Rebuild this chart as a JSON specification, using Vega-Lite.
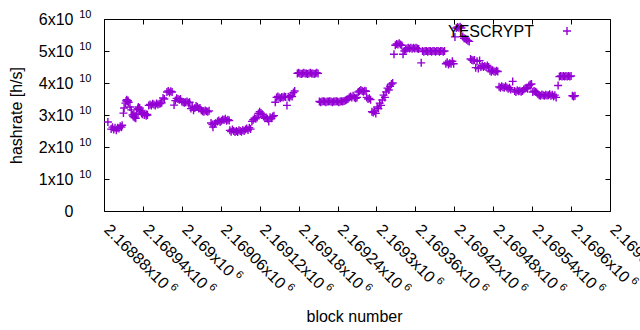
{
"$schema": "https://vega.github.io/schema/vega-lite/v6.json",
"autosize": {"type": "none"},
"width": 506, "height": 192,
"padding": {"left": 104, "top": 19, "right": 30, "bottom": 119},
"background": "white",
"config": {"view": {"stroke": "black", "strokeWidth": 1}, "font": "Liberation Sans",
 "axis": {"domain": false, "grid": false, "tickColor": "black", "tickSize": -5, "labelColor": "black", "labelFontSize": 16, "titleFontSize": 16, "titleFontWeight": "normal", "titleColor": "black", "labelFont": "Liberation Sans", "titleFont": "Liberation Sans"}},
"datasets": {"d": [
{"b":2168886,"h":2.78e10},{"b":2168891,"h":2.56e10},{"b":2168893,"h":2.62e10},{"b":2168895,"h":2.55e10},{"b":2168897,"h":2.6e10},{"b":2168899,"h":2.52e10},{"b":2168901,"h":2.6e10},{"b":2168903,"h":2.58e10},{"b":2168905,"h":2.65e10},{"b":2168907,"h":2.62e10},{"b":2168908,"h":2.68e10},
{"b":2168910,"h":3.06e10},{"b":2168911,"h":3.22e10},{"b":2168913,"h":3.37e10},{"b":2168914,"h":3.44e10},{"b":2168915,"h":3.48e10},{"b":2168916,"h":3.42e10},{"b":2168917,"h":3.45e10},{"b":2168918,"h":3.4e10},{"b":2168920,"h":3.25e10},{"b":2168922,"h":3.16e10},{"b":2168924,"h":3.0e10},{"b":2168925,"h":2.95e10},{"b":2168926,"h":3.02e10},{"b":2168927,"h":2.92e10},{"b":2168928,"h":2.97e10},{"b":2168929,"h":2.9e10},{"b":2168930,"h":3.03e10},{"b":2168932,"h":3.2e10},{"b":2168933,"h":3.25e10},{"b":2168934,"h":3.17e10},{"b":2168935,"h":3.22e10},{"b":2168936,"h":3.13e10},{"b":2168938,"h":3.06e10},{"b":2168939,"h":3.02e10},{"b":2168940,"h":3.08e10},{"b":2168942,"h":3.0e10},{"b":2168943,"h":3.04e10},{"b":2168945,"h":2.98e10},{"b":2168946,"h":3.02e10},{"b":2168947,"h":3.0e10},
{"b":2168949,"h":3.3e10},{"b":2168951,"h":3.33e10},{"b":2168953,"h":3.3e10},{"b":2168955,"h":3.35e10},{"b":2168957,"h":3.33e10},{"b":2168959,"h":3.3e10},{"b":2168961,"h":3.36e10},{"b":2168963,"h":3.33e10},{"b":2168965,"h":3.35e10},{"b":2168967,"h":3.36e10},{"b":2168969,"h":3.38e10},{"b":2168971,"h":3.53e10},{"b":2168973,"h":3.5e10},{"b":2168977,"h":3.72e10},{"b":2168979,"h":3.75e10},{"b":2168981,"h":3.7e10},{"b":2168983,"h":3.74e10},{"b":2168985,"h":3.72e10},{"b":2168988,"h":3.31e10},{"b":2168990,"h":3.45e10},{"b":2168992,"h":3.52e10},{"b":2168994,"h":3.5e10},{"b":2168996,"h":3.48e10},{"b":2168998,"h":3.5e10},{"b":2169000,"h":3.42e10},{"b":2169002,"h":3.4e10},{"b":2169004,"h":3.38e10},{"b":2169006,"h":3.4e10},{"b":2169008,"h":3.42e10},{"b":2169010,"h":3.38e10},{"b":2169012,"h":3.4e10},
{"b":2169014,"h":3.2e10},{"b":2169016,"h":3.25e10},{"b":2169018,"h":3.15e10},{"b":2169020,"h":3.22e10},{"b":2169022,"h":3.28e10},{"b":2169024,"h":3.25e10},{"b":2169026,"h":3.2e10},{"b":2169028,"h":3.22e10},{"b":2169030,"h":3.15e10},{"b":2169032,"h":3.12e10},{"b":2169034,"h":3.1e10},{"b":2169036,"h":3.14e10},{"b":2169038,"h":3.12e10},{"b":2169040,"h":3.1e10},{"b":2169042,"h":3.13e10},
{"b":2169045,"h":2.75e10},{"b":2169047,"h":2.7e10},{"b":2169048,"h":2.62e10},{"b":2169050,"h":2.72e10},{"b":2169052,"h":2.74e10},{"b":2169055,"h":2.8e10},{"b":2169057,"h":2.83e10},{"b":2169059,"h":2.78e10},{"b":2169061,"h":2.82e10},{"b":2169063,"h":2.86e10},{"b":2169065,"h":2.84e10},{"b":2169067,"h":2.88e10},{"b":2169069,"h":2.82e10},{"b":2169071,"h":2.85e10},{"b":2169073,"h":2.83e10},
{"b":2169074,"h":2.52e10},{"b":2169076,"h":2.48e10},{"b":2169078,"h":2.55e10},{"b":2169080,"h":2.5e10},{"b":2169082,"h":2.47e10},{"b":2169084,"h":2.5e10},{"b":2169086,"h":2.47e10},{"b":2169088,"h":2.52e10},{"b":2169090,"h":2.5e10},{"b":2169092,"h":2.48e10},{"b":2169094,"h":2.53e10},{"b":2169096,"h":2.5e10},{"b":2169098,"h":2.55e10},{"b":2169100,"h":2.58e10},{"b":2169102,"h":2.53e10},{"b":2169104,"h":2.6e10},{"b":2169106,"h":2.56e10},{"b":2169108,"h":2.8e10},{"b":2169110,"h":2.85e10},{"b":2169112,"h":2.9e10},{"b":2169114,"h":2.88e10},{"b":2169116,"h":2.92e10},{"b":2169118,"h":3.05e10},{"b":2169120,"h":3.1e10},{"b":2169122,"h":3.06e10},{"b":2169124,"h":3.02e10},{"b":2169126,"h":2.95e10},{"b":2169128,"h":2.9e10},{"b":2169130,"h":2.92e10},{"b":2169132,"h":2.88e10},{"b":2169134,"h":2.8e10},{"b":2169136,"h":2.93e10},{"b":2169138,"h":2.9e10},{"b":2169140,"h":2.95e10},{"b":2169142,"h":2.98e10},
{"b":2169144,"h":3.4e10},{"b":2169146,"h":3.55e10},{"b":2169148,"h":3.58e10},{"b":2169150,"h":3.55e10},{"b":2169152,"h":3.52e10},{"b":2169154,"h":3.56e10},{"b":2169156,"h":3.55e10},{"b":2169158,"h":3.58e10},{"b":2169160,"h":3.56e10},{"b":2169162,"h":3.3e10},{"b":2169164,"h":3.57e10},{"b":2169166,"h":3.55e10},{"b":2169168,"h":3.6e10},{"b":2169170,"h":3.58e10},{"b":2169172,"h":3.7e10},{"b":2169174,"h":3.75e10},
{"b":2169178,"h":4.3e10},{"b":2169180,"h":4.32e10},{"b":2169182,"h":4.3e10},{"b":2169184,"h":4.28e10},{"b":2169186,"h":4.3e10},{"b":2169188,"h":4.32e10},{"b":2169190,"h":4.3e10},{"b":2169192,"h":4.3e10},{"b":2169194,"h":4.28e10},{"b":2169196,"h":4.3e10},{"b":2169198,"h":4.32e10},{"b":2169200,"h":4.3e10},{"b":2169202,"h":4.3e10},{"b":2169204,"h":4.28e10},{"b":2169206,"h":4.3e10},{"b":2169208,"h":4.32e10},{"b":2169210,"h":4.3e10},
{"b":2169212,"h":3.42e10},{"b":2169214,"h":3.4e10},{"b":2169216,"h":3.42e10},{"b":2169218,"h":3.43e10},{"b":2169220,"h":3.42e10},{"b":2169222,"h":3.4e10},{"b":2169224,"h":3.42e10},{"b":2169226,"h":3.42e10},{"b":2169228,"h":3.43e10},{"b":2169230,"h":3.42e10},{"b":2169232,"h":3.4e10},{"b":2169234,"h":3.42e10},{"b":2169236,"h":3.42e10},{"b":2169238,"h":3.43e10},{"b":2169240,"h":3.42e10},{"b":2169242,"h":3.4e10},{"b":2169244,"h":3.42e10},{"b":2169246,"h":3.43e10},{"b":2169248,"h":3.42e10},{"b":2169250,"h":3.44e10},{"b":2169252,"h":3.45e10},
{"b":2169254,"h":3.48e10},{"b":2169256,"h":3.5e10},{"b":2169258,"h":3.55e10},{"b":2169260,"h":3.58e10},{"b":2169262,"h":3.55e10},{"b":2169264,"h":3.6e10},{"b":2169266,"h":3.55e10},{"b":2169268,"h":3.52e10},{"b":2169270,"h":3.55e10},
{"b":2169272,"h":3.72e10},{"b":2169274,"h":3.75e10},{"b":2169276,"h":3.78e10},{"b":2169278,"h":3.75e10},{"b":2169280,"h":3.73e10},{"b":2169282,"h":3.76e10},{"b":2169284,"h":3.74e10},
{"b":2169285,"h":3.55e10},{"b":2169287,"h":3.5e10},{"b":2169289,"h":3.52e10},{"b":2169291,"h":3.48e10},
{"b":2169293,"h":3.1e10},{"b":2169295,"h":3.08e10},{"b":2169297,"h":3.12e10},{"b":2169299,"h":3.05e10},
{"b":2169301,"h":3.25e10},{"b":2169303,"h":3.2e10},{"b":2169305,"h":3.37e10},{"b":2169307,"h":3.3e10},{"b":2169309,"h":3.47e10},{"b":2169311,"h":3.62e10},{"b":2169313,"h":3.55e10},{"b":2169315,"h":3.72e10},{"b":2169317,"h":3.84e10},{"b":2169319,"h":3.78e10},{"b":2169321,"h":3.9e10},{"b":2169323,"h":3.97e10},{"b":2169325,"h":4.0e10},
{"b":2169327,"h":4.9e10},{"b":2169329,"h":5.18e10},{"b":2169331,"h":5.22e10},{"b":2169333,"h":5.2e10},{"b":2169335,"h":5.24e10},{"b":2169337,"h":5.2e10},{"b":2169339,"h":5.18e10},{"b":2169341,"h":4.9e10},
{"b":2169343,"h":5.0e10},{"b":2169345,"h":5.05e10},{"b":2169347,"h":5.08e10},{"b":2169349,"h":5.1e10},{"b":2169351,"h":5.08e10},{"b":2169353,"h":5.1e10},{"b":2169355,"h":5.07e10},{"b":2169357,"h":5.1e10},{"b":2169359,"h":5.08e10},{"b":2169361,"h":5.1e10},{"b":2169363,"h":5.08e10},{"b":2169365,"h":5.06e10},
{"b":2169369,"h":4.63e10},
{"b":2169371,"h":5.0e10},{"b":2169373,"h":4.98e10},{"b":2169375,"h":5.0e10},{"b":2169377,"h":5.0e10},{"b":2169379,"h":4.98e10},{"b":2169381,"h":5.0e10},{"b":2169383,"h":5.0e10},{"b":2169385,"h":4.98e10},{"b":2169387,"h":5.0e10},{"b":2169389,"h":5.0e10},{"b":2169391,"h":4.98e10},{"b":2169393,"h":5.0e10},{"b":2169395,"h":5.0e10},{"b":2169397,"h":4.98e10},{"b":2169399,"h":5.0e10},{"b":2169401,"h":5.0e10},{"b":2169403,"h":4.98e10},{"b":2169405,"h":5.0e10},
{"b":2169407,"h":4.6e10},{"b":2169409,"h":4.65e10},{"b":2169411,"h":4.58e10},{"b":2169413,"h":4.62e10},{"b":2169415,"h":4.6e10},{"b":2169417,"h":4.68e10},{"b":2169419,"h":4.6e10},
{"b":2169421,"h":5.44e10},
{"b":2169423,"h":5.72e10},{"b":2169425,"h":5.75e10},{"b":2169427,"h":5.73e10},{"b":2169429,"h":5.76e10},{"b":2169431,"h":5.72e10},
{"b":2169433,"h":5.45e10},{"b":2169435,"h":5.4e10},{"b":2169437,"h":5.38e10},{"b":2169439,"h":5.35e10},{"b":2169441,"h":5.32e10},{"b":2169443,"h":5.3e10},
{"b":2169445,"h":4.75e10},{"b":2169447,"h":4.72e10},{"b":2169449,"h":4.7e10},{"b":2169451,"h":4.72e10},
{"b":2169453,"h":4.48e10},{"b":2169455,"h":4.68e10},{"b":2169457,"h":4.45e10},{"b":2169459,"h":4.7e10},{"b":2169461,"h":4.5e10},
{"b":2169463,"h":4.55e10},{"b":2169465,"h":4.5e10},{"b":2169467,"h":4.53e10},{"b":2169469,"h":4.5e10},{"b":2169471,"h":4.55e10},{"b":2169473,"h":4.5e10},
{"b":2169475,"h":4.38e10},{"b":2169477,"h":4.35e10},{"b":2169479,"h":4.4e10},{"b":2169481,"h":4.37e10},{"b":2169483,"h":4.35e10},{"b":2169485,"h":4.38e10},{"b":2169487,"h":4.36e10},
{"b":2169489,"h":3.88e10},{"b":2169491,"h":3.85e10},{"b":2169493,"h":3.9e10},{"b":2169495,"h":3.87e10},{"b":2169497,"h":3.85e10},{"b":2169499,"h":3.9e10},{"b":2169501,"h":3.86e10},{"b":2169503,"h":3.82e10},{"b":2169505,"h":3.85e10},{"b":2169507,"h":3.8e10},
{"b":2169510,"h":4.05e10},
{"b":2169513,"h":3.75e10},{"b":2169515,"h":3.72e10},{"b":2169517,"h":3.77e10},{"b":2169519,"h":3.74e10},{"b":2169521,"h":3.76e10},{"b":2169523,"h":3.73e10},{"b":2169525,"h":3.75e10},
{"b":2169527,"h":3.8e10},{"b":2169529,"h":3.83e10},{"b":2169531,"h":3.85e10},{"b":2169533,"h":3.82e10},
{"b":2169535,"h":3.92e10},{"b":2169537,"h":3.95e10},{"b":2169539,"h":3.97e10},
{"b":2169541,"h":3.72e10},{"b":2169543,"h":3.75e10},{"b":2169545,"h":3.73e10},{"b":2169547,"h":3.7e10},
{"b":2169549,"h":3.65e10},{"b":2169551,"h":3.62e10},{"b":2169553,"h":3.6e10},{"b":2169555,"h":3.64e10},{"b":2169557,"h":3.62e10},{"b":2169559,"h":3.6e10},{"b":2169561,"h":3.63e10},{"b":2169563,"h":3.61e10},{"b":2169565,"h":3.62e10},{"b":2169567,"h":3.65e10},{"b":2169569,"h":3.6e10},{"b":2169571,"h":3.63e10},{"b":2169573,"h":3.58e10},{"b":2169575,"h":3.62e10},{"b":2169577,"h":3.55e10},
{"b":2169580,"h":3.92e10},
{"b":2169582,"h":4.2e10},{"b":2169584,"h":4.22e10},{"b":2169586,"h":4.2e10},{"b":2169588,"h":4.22e10},{"b":2169590,"h":4.2e10},{"b":2169592,"h":4.22e10},{"b":2169594,"h":4.2e10},{"b":2169596,"h":4.22e10},{"b":2169598,"h":4.2e10},{"b":2169600,"h":4.22e10},
{"b":2169602,"h":3.6e10},{"b":2169604,"h":3.58e10},{"b":2169606,"h":3.6e10}
]},
"layer": [
 {"data": {"name": "d"},
  "mark": {"type": "point", "shape": "M-1,0H1M0,-1V1", "filled": false, "strokeWidth": 1.4, "size": 64, "opacity": 1},
  "encoding": {
   "x": {"field": "b", "type": "quantitative", "scale": {"domain": [2168880, 2169660], "nice": false, "zero": false},
    "axis": {"orient": "bottom", "values": [2168880,2168940,2169000,2169060,2169120,2169180,2169240,2169300,2169360,2169420,2169480,2169540,2169600,2169660],
     "labelExpr": "format(datum.value/1e6,'.6~g')+'x10'", "labelAngle": 45, "labelAlign": "left", "labelBaseline": "top", "labelOverlap": false, "labelBound": false, "labelFlush": false, "labelPadding": 15, "labelOffset": 8, "title": "block number", "titlePadding": 17, "titleX": 250}},
   "y": {"field": "h", "type": "quantitative", "scale": {"domain": [0, 6e10], "nice": false},
    "axis": {"orient": "left", "values": [0,1e10,2e10,3e10,4e10,5e10,6e10], "labelExpr": "datum.value==0?'0':format(datum.value/1e10,'d')+'x10'", "labelPadding": 36, "labelFlush": false, "labelBound": false, "title": "hashrate [h/s]", "titlePadding": 14}},
   "color": {"datum": "YESCRYPT", "scale": {"range": ["#9400d3"]},
    "legend": {"orient": "none", "legendX": 344, "legendY": 7, "title": "YESCRYPT", "titleOrient": "left", "titleFontSize": 16, "titleFontWeight": "normal", "titleColor": "black", "titleFont": "Liberation Sans", "titlePadding": 28, "labelExpr": "''", "symbolType": "M-1,0H1M0,-1V1", "symbolSize": 64, "symbolStrokeWidth": 1.4, "symbolFillColor": "transparent", "symbolStrokeColor": "#9400d3"}}
  }},
 {"data": {"values": [{}]},
  "mark": {"type": "point", "opacity": 0},
  "encoding": {
   "x": {"datum": 2168880, "type": "quantitative", "axis": {"orient": "top", "values": [2168880,2168940,2169000,2169060,2169120,2169180,2169240,2169300,2169360,2169420,2169480,2169540,2169600,2169660], "labels": false, "title": null}},
   "y": {"datum": 0, "type": "quantitative", "axis": {"orient": "right", "values": [0,1e10,2e10,3e10,4e10,5e10,6e10], "labels": false, "title": null}}
  }},
 {"data": {"values": [{}]},
  "mark": {"type": "point", "opacity": 0},
  "encoding": {
   "x": {"datum": 2168880, "type": "quantitative", "axis": {"orient": "bottom", "values": [2168880,2168940,2169060,2169120,2169180,2169240,2169360,2169420,2169480,2169540,2169660], "ticks": false, "labelExpr": "'6'", "labelFontSize": 11, "labelAngle": 45, "labelAlign": "left", "labelBaseline": "top", "labelOverlap": false, "labelBound": false, "labelFlush": false, "labelPadding": 69.7, "labelOffset": 71.5, "title": null}},
   "y": {"datum": 0, "type": "quantitative", "axis": {"orient": "left", "values": [0,1e10,2e10,3e10,4e10,5e10,6e10], "ticks": false, "labelExpr": "datum.value==0?'':'10'", "labelFontSize": 11, "labelPadding": 13, "labelOffset": -5, "labelFlush": false, "labelBound": false, "title": null}}
  }},
 {"data": {"values": [{}]},
  "mark": {"type": "point", "opacity": 0},
  "encoding": {
   "x": {"datum": 2168880, "type": "quantitative", "axis": {"orient": "bottom", "values": [2169300,2169600], "ticks": false, "labelExpr": "'6'", "labelFontSize": 11, "labelAngle": 45, "labelAlign": "left", "labelBaseline": "top", "labelOverlap": false, "labelBound": false, "labelFlush": false, "labelPadding": 63.4, "labelOffset": 65.2, "title": null}},
   "y": {"datum": 0, "type": "quantitative", "axis": null}
  }},
 {"data": {"values": [{}]},
  "mark": {"type": "point", "opacity": 0},
  "encoding": {
   "x": {"datum": 2168880, "type": "quantitative", "axis": {"orient": "bottom", "values": [2169000], "ticks": false, "labelExpr": "'6'", "labelFontSize": 11, "labelAngle": 45, "labelAlign": "left", "labelBaseline": "top", "labelOverlap": false, "labelBound": false, "labelFlush": false, "labelPadding": 57.1, "labelOffset": 58.9, "title": null}},
   "y": {"datum": 0, "type": "quantitative", "axis": null}
  }}
],
"resolve": {"axis": {"x": "independent", "y": "independent"}}
}
